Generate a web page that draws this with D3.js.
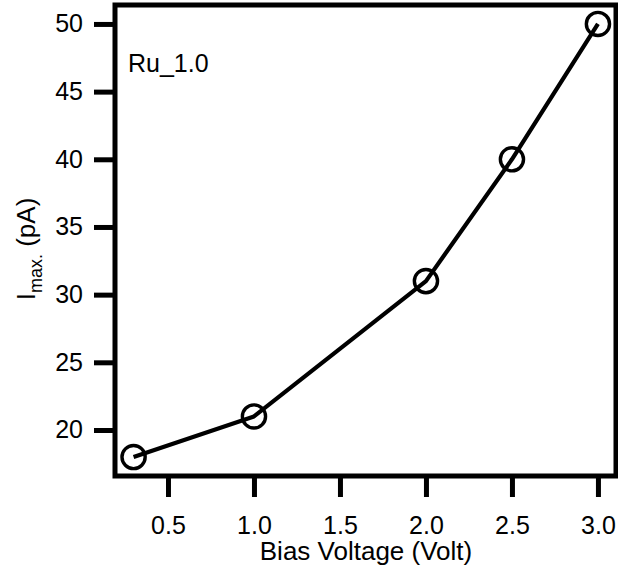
<!DOCTYPE html>
<html>
<head>
<meta charset="utf-8">
<script src="https://cdn.jsdelivr.net/npm/d3@7/dist/d3.min.js"></script>
<style>
  body { margin: 0; background: #fff; }
  text { font-family: "Liberation Sans", Arial, sans-serif; fill: #000; }
</style>
</head>
<body>
<div id="viz"></div>
<script>
const WIDTH = 618, HEIGHT = 572;
const MARGIN = {left: 115, right: 2, top: 5, bottom: 96};

// data
const biasVoltage = [0.3, 1.0, 2.0, 2.5, 3.0];
const currentMax = [18, 21, 31, 40, 50];
const xTicks = [0.5, 1.0, 1.5, 2.0, 2.5, 3.0];
const yTicks = [20, 25, 30, 35, 40, 45, 50];
const sampleLabel = "Ru_1.0";

const points = biasVoltage.map((v, i) => ({v, i: currentMax[i]}));

const svg = d3.select("#viz").append("svg")
  .attr("width", WIDTH)
  .attr("height", HEIGHT);

const x0 = MARGIN.left, x1 = WIDTH - MARGIN.right;
const y0 = HEIGHT - MARGIN.bottom, y1 = MARGIN.top;

const x = d3.scaleLinear()
  .domain([0.192, 3.105])
  .range([x0, x1]);

const y = d3.scaleLinear()
  .domain([16.6, 51.4])
  .range([y0, y1]);

// frame
svg.append("path")
  .attr("d", `M${x0},${y0}H${x1}V${y1}H${x0}Z`)
  .attr("fill", "none")
  .attr("stroke", "#000")
  .attr("stroke-width", 5);

// axes
const xAxis = svg.append("g")
  .attr("transform", `translate(0,${y0})`)
  .call(d3.axisBottom(x).tickValues(xTicks).tickFormat(d3.format(".1f")).tickSize(21).tickPadding(19));
xAxis.select(".domain").remove();
xAxis.selectAll(".tick line").attr("stroke-width", 5);
xAxis.selectAll("text").style("font-size", "25px").attr("fill", "#000");

const yAxis = svg.append("g")
  .attr("transform", `translate(${x0},0)`)
  .call(d3.axisLeft(y).tickValues(yTicks).tickSize(21).tickPadding(11));
yAxis.select(".domain").remove();
yAxis.selectAll(".tick line").attr("stroke-width", 5);
yAxis.selectAll("text").style("font-size", "25px").attr("fill", "#000");

// axis titles
svg.append("text")
  .attr("x", 366)
  .attr("y", 560)
  .attr("text-anchor", "middle")
  .attr("fill", "#000")
  .style("font-size", "26px")
  .text("Bias Voltage (Volt)");

const yTitle = svg.append("text")
  .attr("transform", "translate(35,249) rotate(-90)")
  .attr("text-anchor", "middle")
  .attr("fill", "#000")
  .style("font-size", "26px");
yTitle.append("tspan").text("I");
yTitle.append("tspan").attr("dy", 7).style("font-size", "18px").text("max.");
yTitle.append("tspan").attr("dy", -7).text(" (pA)");

// line
svg.append("path")
  .datum(points)
  .attr("fill", "none")
  .attr("stroke", "#000")
  .attr("stroke-width", 4.2)
  .attr("stroke-linejoin", "round")
  .attr("d", d3.line().x(d => x(d.v)).y(d => y(d.i)));

// markers
svg.selectAll("circle.pt")
  .data(points)
  .join("circle")
  .attr("class", "pt")
  .attr("cx", d => x(d.v))
  .attr("cy", d => y(d.i))
  .attr("r", 11.6)
  .attr("fill", "none")
  .attr("stroke", "#000")
  .attr("stroke-width", 3.4);

svg.append("text")
  .attr("x", 128)
  .attr("y", 72)
  .attr("fill", "#000")
  .style("font-size", "25px")
  .text(sampleLabel);
</script>
</body>
</html>
